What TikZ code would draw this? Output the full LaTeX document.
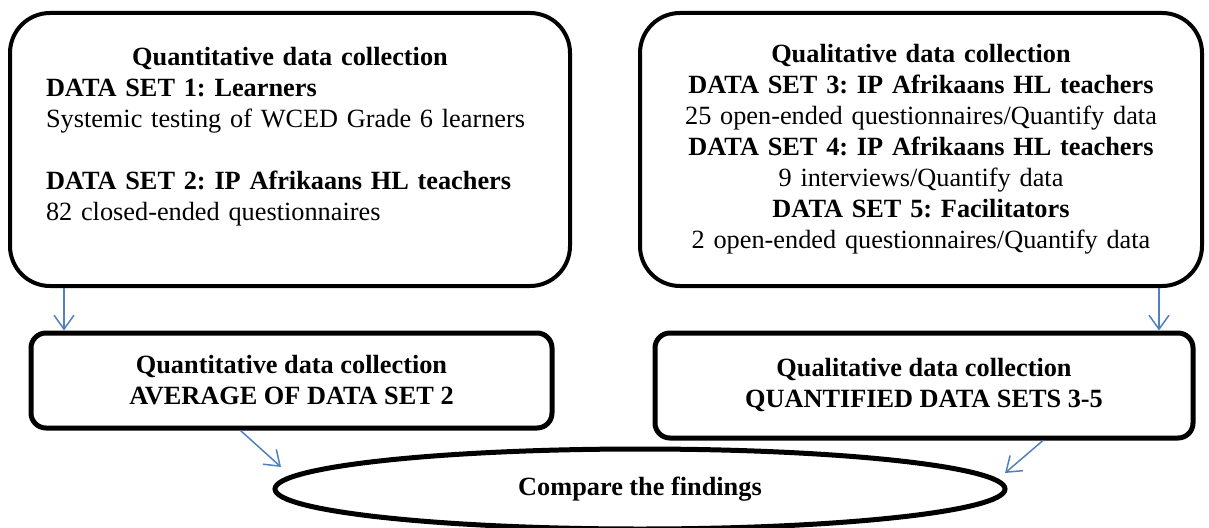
\documentclass[tikz,border=0pt]{standalone}
\usepackage{fontspec}
\setmainfont{Liberation Serif}
\usetikzlibrary{arrows.meta,shapes.geometric}

\definecolor{flowblue}{HTML}{4F81BD}
\newcommand{\boxfont}{\fontsize{26.3}{31}\selectfont\frenchspacing}

\tikzset{
    bigbox/.style={draw, line width=4pt, rounded corners=40pt, minimum height=273pt, inner sep=0pt},
    sumbox/.style={draw, line width=5pt, rounded corners=15pt, inner sep=0pt, align=center, font=\boxfont\bfseries},
    flow/.style={draw=flowblue, line width=1.5pt, -{Straight Barb[length=14pt,width=20pt]}},
}

\begin{document}
\begin{tikzpicture}[x=1pt, y=-1pt, font=\boxfont]

    \useasboundingbox (0,0) rectangle (1209,527);

    % the two collection boxes
    \node[bigbox, minimum width=560pt, text width=488pt, align=left] (quant) at (290,149.5) {%
        \makebox[\hsize]{\bfseries Quantitative data collection}\\
        \textbf{DATA SET 1: Learners}\\
        Systemic testing of WCED Grade 6 learners\\
        \mbox{}\\
        \textbf{DATA SET 2: IP Afrikaans HL teachers}\\
        82 closed-ended questionnaires\\
        \mbox{}};
    \node[bigbox, minimum width=562pt, text width=540pt, align=center] (qual) at (921,149.5) {%
        \textbf{Qualitative data collection}\\
        \textbf{DATA SET 3: IP Afrikaans HL teachers}\\
        25 open-ended questionnaires/Quantify data\\
        \textbf{DATA SET 4: IP Afrikaans HL teachers}\\
        9 interviews/Quantify data\\
        \textbf{DATA SET 5: Facilitators}\\
        2 open-ended questionnaires/Quantify data};

    % summaries
    \node[sumbox, minimum width=521pt, minimum height=95pt] (quantsum) at (291.5,380.5)
        {Quantitative data collection\\ AVERAGE OF DATA SET 2};
    \node[sumbox, minimum width=538pt, minimum height=105pt] (qualsum) at (924,385.5)
        {Qualitative data collection\\ QUANTIFIED DATA SETS 3-5};

    \node[ellipse, draw, line width=5pt, minimum width=730pt, minimum height=80pt, inner sep=0pt, font=\boxfont\bfseries] (compare) at (640,489)
        {Compare the findings};

    % arrows
    \draw[flow] ([xshift=56pt]quant.south west) -- ([xshift=56pt]quant.south west |- quantsum.north);
    \draw[flow] ([xshift=-45pt]qual.south east) -- ([xshift=-45pt]qual.south east |- qualsum.north);
    \draw[flow] ([xshift=-51pt]quantsum.south) -- ([shift={(-359,-22)}]compare.center);
    \draw[flow] ([xshift=119pt]qualsum.south) -- ([shift={(365,-16)}]compare.center);

\end{tikzpicture}
\end{document}
